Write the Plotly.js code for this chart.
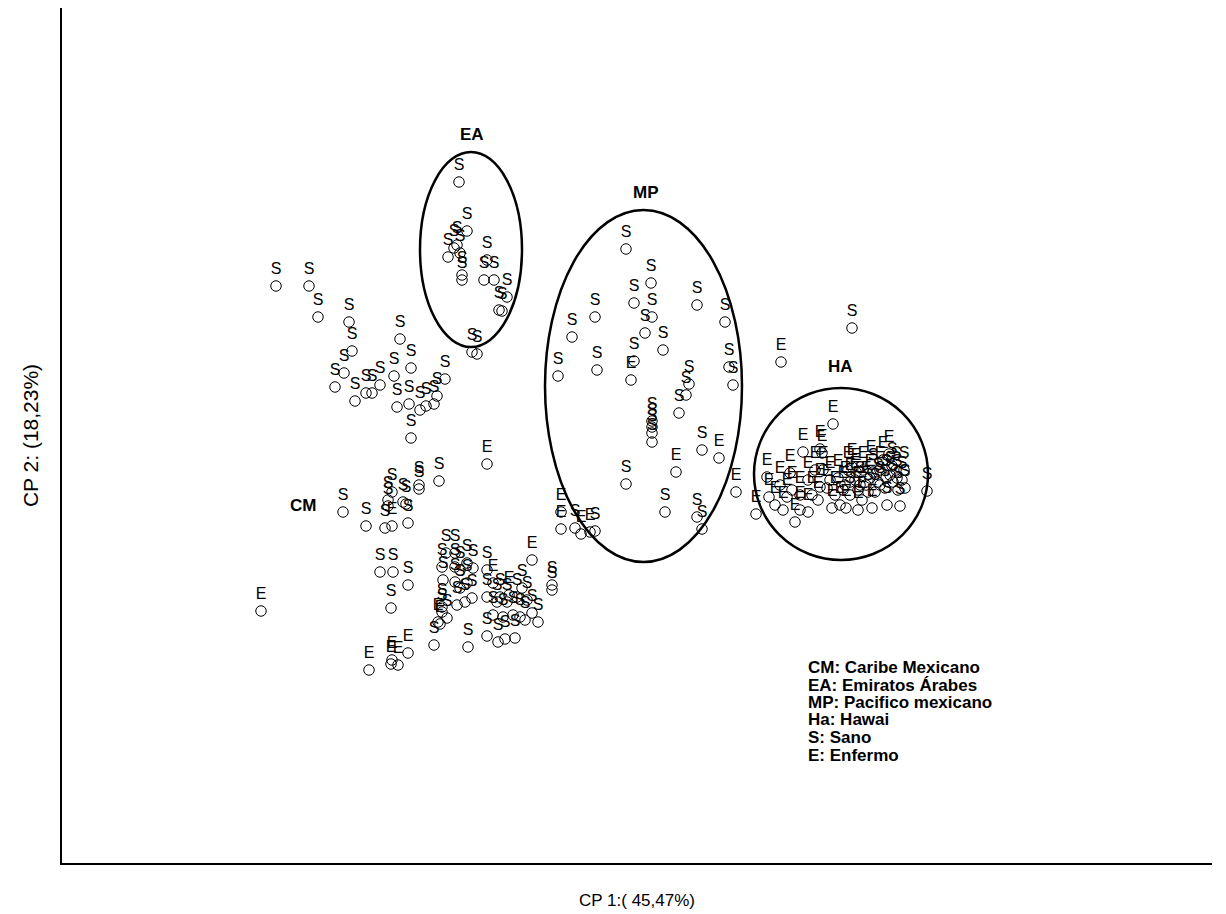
<!DOCTYPE html>
<html>
<head>
<meta charset="utf-8">
<script src="https://cdn.plot.ly/plotly-3.0.1.min.js"></script>
<style>
  html, body { margin: 0; padding: 0; background: #fff; }
  #chart { width: 1226px; height: 914px; }
</style>
</head>
<body>
<div id="chart"></div>
<script>
// PCA scores (CP 1, CP 2) per sample, grouped by origin; estado: S = sano, E = enfermo
const cmX = [276,309,318,349,352,344,335,355,366,372,380,394,400,411,445,397,409,420,426,434,437,411,
             439,419,419,343,366,392,388,388,403,406,408,385,392,
             380,393,408,391,261,369,391,392,398,408,434,468,
             446,455,442,455,460,467,473,487,443,455,460,467,493,522,509,487,500,
             442,442,438,440,447,457,465,472,497,507,517,527,493,503,513,520,532,538,
             487,498,505,515,525,532,552,552,487];
const cmY = [286,286,317,322,351,373,387,401,393,393,385,376,339,368,379,407,404,410,406,404,396,438,
             481,485,489,512,526,492,500,506,502,504,523,528,526,
             572,572,585,608,611,670,664,660,665,653,645,647,
             553,553,567,567,570,563,568,570,580,582,588,583,583,588,595,597,597,
             607,612,622,624,618,605,602,598,602,602,597,600,615,617,615,617,613,622,
             636,642,639,638,620,560,585,590,464];
const cmEstado = ['S','S','S','S','S','S','S','S','S','S','S','S','S','S','S','S','S','S','S','S','S','S',
             'S','S','S','S','S','S','S','S','S','S','S','S','E',
             'S','S','S','S','E','E','E','E','E','E','S','S',
             'S','S','S','S','S','S','S','S','S','S','S','S','E','S','E','S','S',
             'S','S','E','E','S','S','S','S','S','S','S','S','S','S','S','S','S','S',
             'S','S','S','S','S','E','S','S','E'];

const eaX = [459,467,448,454,457,460,462,462,487,484,494,507,499,502,472,477];
const eaY = [182,231,257,248,245,253,275,280,260,280,280,297,310,311,352,354];
const eaEstado = ['S','S','S','S','S','S','S','S','S','S','S','S','S','S','S','S'];

const mpX = [626,651,634,652,697,595,572,645,663,725,558,597,634,631,729,733,689,686,679,
             652,652,652,652,702,719,676,626,736,665,697,702,561,561,575,581,590,595];
const mpY = [249,283,303,317,305,317,337,333,350,322,376,370,361,380,367,385,384,395,413,
             421,427,433,442,450,458,472,484,492,512,517,529,512,529,528,534,532,531];
const mpEstado = ['S','S','S','S','S','S','S','S','S','S','S','S','S','E','S','S','S','S','S',
             'S','S','S','S','S','E','E','S','E','S','S','S','E','E','S','E','E','S'];

const haX = [781,852,833,756,767,769,780,790,783,795,803,808,812,820,822,823,820,818,830,835,840,845,848,852,
             855,858,862,863,866,870,871,875,878,880,883,885,889,890,893,896,898,902,904,905,900,887,872,
             858,846,832,808,800,927,792,775,
             838,843,850,856,860,868,873,880,886,892,897,850,827,815,800,787];
const haY = [362,328,424,514,477,497,485,473,510,522,452,480,495,449,453,470,487,500,480,495,505,485,470,467,
             480,490,500,470,485,478,464,492,482,470,460,488,454,475,482,470,490,480,470,488,506,505,508,
             510,508,508,512,510,491,490,505,
             478,490,495,472,485,492,472,485,478,466,478,482,488,470,495,497];
const haEstado = ['E','S','E','E','E','E','E','E','E','E','E','E','E','E','E','E','E','E','E','E','E','E','E','E',
             'E','E','E','E','E','E','E','S','S','E','E','S','E','S','S','S','S','S','S','S','S','S','E',
             'E','E','E','E','E','S','E','E',
             'E','E','S','E','S','S','S','S','S','S','S','E','E','E','E','E'];

// Group outlines (bounding box of each ellipse) and their names
const grupos = ['EA','MP','HA'];
const elipseX0 = [420,545,754];
const elipseX1 = [522,742,928];
const elipseY0 = [152,210,388];
const elipseY1 = [347,562,560];
const etiquetas = ['CM','EA','MP','HA'];
const etiquetaX = [303,472,646,840];
const etiquetaY = [505,134,192,366];

const leyenda = ['CM: Caribe Mexicano','EA: Emiratos Árabes','MP: Pacifico mexicano','Ha: Hawai','S: Sano','E: Enfermo'];
const leyendaY = [667,685,702,719,737,755];
const leyendaX = 806;

const font = 'Arial, "Liberation Sans", sans-serif';

function serie(x, y, t, name) {
  return {
    type: 'scatter', mode: 'markers+text', name: name,
    x: x, y: y, text: t,
    textposition: 'top center',
    textfont: { family: font, size: 16, color: '#000' },
    marker: { symbol: 'circle-open', size: 10.5, color: '#000', line: { width: 1, color: '#000' } },
    cliponaxis: false, hoverinfo: 'x+y+text'
  };
}

const data = [
  serie(cmX, cmY, cmEstado, 'CM'),
  serie(eaX, eaY, eaEstado, 'EA'),
  serie(mpX, mpY, mpEstado, 'MP'),
  serie(haX, haY, haEstado, 'HA')
];

const shapes = grupos.map((g, i) => ({
  type: 'circle', xref: 'x', yref: 'y',
  x0: elipseX0[i], x1: elipseX1[i], y0: elipseY0[i], y1: elipseY1[i],
  line: { color: '#000', width: 2.5 }
}));

const annotations = etiquetas.map((t, i) => ({
  text: '<b>' + t + '</b>', x: etiquetaX[i], y: etiquetaY[i], xref: 'x', yref: 'y',
  showarrow: false, font: { family: font, size: 17, color: '#000' }
})).concat(leyenda.map((t, i) => ({
  text: '<b>' + t + '</b>', x: leyendaX, y: leyendaY[i], xref: 'x', yref: 'y',
  xanchor: 'left', yanchor: 'middle', showarrow: false,
  font: { family: font, size: 17, color: '#000' }
})));

const layout = {
  width: 1226, height: 914,
  margin: { l: 62, r: 14, t: 8, b: 51 },
  paper_bgcolor: '#fff', plot_bgcolor: '#fff',
  showlegend: false,
  font: { family: font, color: '#000' },
  xaxis: {
    range: [62, 1212], showgrid: false, zeroline: false, showticklabels: false, ticks: '',
    showline: true, linecolor: '#000', linewidth: 2,
    title: { text: 'CP 1:( 45,47%)', font: { family: font, size: 17, color: '#000' }, standoff: 30 }
  },
  yaxis: {
    range: [863, 8], showgrid: false, zeroline: false, showticklabels: false, ticks: '',
    showline: true, linecolor: '#000', linewidth: 2,
    title: { text: 'CP 2: (18,23%)', font: { family: font, size: 21, color: '#000' }, standoff: 16 }
  },
  shapes: shapes,
  annotations: annotations
};

Plotly.newPlot('chart', data, layout, { displayModeBar: false, responsive: false });
</script>
</body>
</html>
